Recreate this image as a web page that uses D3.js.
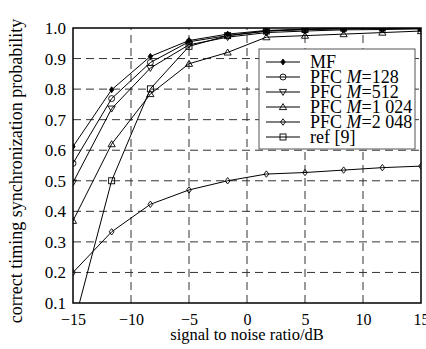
<!DOCTYPE html>
<html>
<head>
<meta charset="utf-8">
<title>Synchronization probability</title>
<script src="https://cdn.jsdelivr.net/npm/d3@7"></script>
<style>
  body { margin: 0; background: #fff; }
  text { font-family: "Liberation Serif", "Times New Roman", serif; fill: #000; }
</style>
</head>
<body>
<script>
// SNR points (dB)
var snr = [-15, -11.67, -8.33, -5, -1.67, 1.67, 5, 8.33, 11.67, 15];

var mf      = [0.612, 0.798, 0.907, 0.959, 0.980, 0.992, 0.996, 0.998, 0.999, 1.000];
var pfc128  = [0.557, 0.769, 0.887, 0.955, 0.975, 0.990, 0.995, 0.997, 0.999, 1.000];
var pfc512  = [0.494, 0.736, 0.869, 0.945, 0.970, 0.985, 0.990, 0.994, 0.995, 0.997];
var pfc1024 = [0.369, 0.620, 0.784, 0.883, 0.920, 0.970, 0.975, 0.980, 0.985, 0.990];
var pfc2048 = [0.200, 0.333, 0.423, 0.470, 0.500, 0.522, 0.527, 0.535, 0.543, 0.548];
var ref9    = [0.020, 0.500, 0.801, 0.940, 0.975, 0.990, 0.995, 1.000, 1.000, 1.000];

var xTicks = [-15, -10, -5, 0, 5, 10, 15];
var yTicks = [0.1, 0.2, 0.3, 0.4, 0.5, 0.6, 0.7, 0.8, 0.9, 1.0];

var seriesNames = ["MF", "PFC M=128", "PFC M=512", "PFC M=1 024", "PFC M=2 048", "ref [9]"];
var seriesValues = [mf, pfc128, pfc512, pfc1024, pfc2048, ref9];
var seriesMarks = ["dot", "circle", "down", "up", "diamond", "square"];

var width = 426, height = 349;
var margin = { top: 28, right: 5, bottom: 46, left: 73 };
var serif = "Liberation Serif";

var svg = d3.select("body").append("svg").attr("width", width).attr("height", height);

var x = d3.scaleLinear().domain([-15, 15]).range([margin.left, width - margin.right]);
var y = d3.scaleLinear().domain([0.1, 1.0]).range([height - margin.bottom, margin.top]);

// grid
var grid = svg.append("g").attr("stroke", "#333").attr("stroke-width", 1).attr("stroke-dasharray", "8,5");
grid.selectAll(".gx").data(xTicks.slice(1, -1)).enter().append("line")
  .attr("x1", function (d) { return x(d); }).attr("x2", function (d) { return x(d); })
  .attr("y1", y(0.1)).attr("y2", y(1.0));
grid.selectAll(".gy").data(yTicks.slice(1, -1)).enter().append("line")
  .attr("y1", function (d) { return y(d); }).attr("y2", function (d) { return y(d); })
  .attr("x1", x(-15)).attr("x2", x(15));

// axes (labels only, frame drawn separately)
var axX = d3.axisBottom(x).tickValues(xTicks).tickSize(0).tickPadding(11).tickFormat(d3.format("d"));
var gx = svg.append("g").attr("transform", "translate(0," + y(0.1) + ")").call(axX)
  .attr("font-family", serif).attr("font-size", 16);
gx.select(".domain").remove();

var axY = d3.axisLeft(y).tickValues(yTicks).tickSize(0).tickPadding(7).tickFormat(d3.format(".1f"));
var gy = svg.append("g").attr("transform", "translate(" + x(-15) + ",0)").call(axY)
  .attr("font-family", serif).attr("font-size", 17);
gy.select(".domain").remove();

// clip
svg.append("clipPath").attr("id", "clip").append("rect")
  .attr("x", x(-15)).attr("y", y(1.0)).attr("width", x(15) - x(-15)).attr("height", y(0.1) - y(1.0));

function drawMark(g, type, cx, cy) {
  var s = 3.2;
  if (type === "dot") {
    g.append("path").attr("d", "M" + cx + "," + (cy - 3) + "L" + (cx + 2.2) + "," + cy + "L" + cx + "," + (cy + 3) + "L" + (cx - 2.2) + "," + cy + "Z")
      .attr("fill", "#000").attr("stroke", "#000").attr("stroke-width", 0.8);
  } else if (type === "circle") {
    g.append("circle").attr("cx", cx).attr("cy", cy).attr("r", 3).attr("fill", "none").attr("stroke", "#000").attr("stroke-width", 0.9);
  } else if (type === "down") {
    g.append("path").attr("d", "M" + (cx - 3.6) + "," + (cy - 2.6) + "L" + (cx + 3.6) + "," + (cy - 2.6) + "L" + cx + "," + (cy + 3.4) + "Z")
      .attr("fill", "none").attr("stroke", "#000").attr("stroke-width", 0.9);
  } else if (type === "up") {
    g.append("path").attr("d", "M" + (cx - 3.6) + "," + (cy + 2.6) + "L" + (cx + 3.6) + "," + (cy + 2.6) + "L" + cx + "," + (cy - 3.4) + "Z")
      .attr("fill", "none").attr("stroke", "#000").attr("stroke-width", 0.9);
  } else if (type === "diamond") {
    g.append("path").attr("d", "M" + cx + "," + (cy - s) + "L" + (cx + 2.4) + "," + cy + "L" + cx + "," + (cy + s) + "L" + (cx - 2.4) + "," + cy + "Z")
      .attr("fill", "none").attr("stroke", "#000").attr("stroke-width", 0.9);
  } else if (type === "square") {
    g.append("rect").attr("x", cx - 3).attr("y", cy - 3).attr("width", 6).attr("height", 6)
      .attr("fill", "none").attr("stroke", "#000").attr("stroke-width", 0.9);
  }
}

var line = d3.line().x(function (d) { return x(d[0]); }).y(function (d) { return y(d[1]); });
var plot = svg.append("g").attr("clip-path", "url(#clip)");

seriesValues.forEach(function (vals, i) {
  var pts = snr.map(function (s, j) { return [s, vals[j]]; });
  plot.append("path").datum(pts).attr("d", line)
    .attr("fill", "none").attr("stroke", "#000").attr("stroke-width", 1);
  var mg = plot.append("g");
  pts.forEach(function (p) {
    if (p[1] >= 0.1) drawMark(mg, seriesMarks[i], x(p[0]), y(p[1]));
  });
});

// frame
svg.append("rect").attr("x", x(-15)).attr("y", y(1.0))
  .attr("width", x(15) - x(-15)).attr("height", y(0.1) - y(1.0))
  .attr("fill", "none").attr("stroke", "#000").attr("stroke-width", 1.5);

// legend
var lg = svg.append("g");
lg.append("rect").attr("x", 259).attr("y", 49).attr("width", 156).attr("height", 100)
  .attr("fill", "#fff").attr("stroke", "#555").attr("stroke-width", 1);
seriesNames.forEach(function (name, i) {
  var ly = 62 + i * 15;
  lg.append("line").attr("x1", 266).attr("x2", 300).attr("y1", ly).attr("y2", ly)
    .attr("stroke", "#000").attr("stroke-width", 1);
  drawMark(lg, seriesMarks[i], 283, ly);
  var t = lg.append("text").attr("x", 310).attr("y", ly + 6).style("font-size", "18px");
  if (name.indexOf("M=") > 0) {
    var parts = name.split("M");
    t.append("tspan").text(parts[0]);
    t.append("tspan").style("font-style", "italic").text("M");
    t.append("tspan").text(parts[1]);
  } else {
    t.text(name);
  }
});

// axis titles
svg.append("text").attr("x", (x(-15) + x(15)) / 2).attr("y", 340)
  .attr("text-anchor", "middle").style("font-size", "16.5px").text("signal to noise ratio/dB");
svg.append("text").attr("transform", "translate(22," + 171 + ") rotate(-90)")
  .attr("text-anchor", "middle").style("font-size", "18px").text("correct timing synchronization probability");
</script>
</body>
</html>
